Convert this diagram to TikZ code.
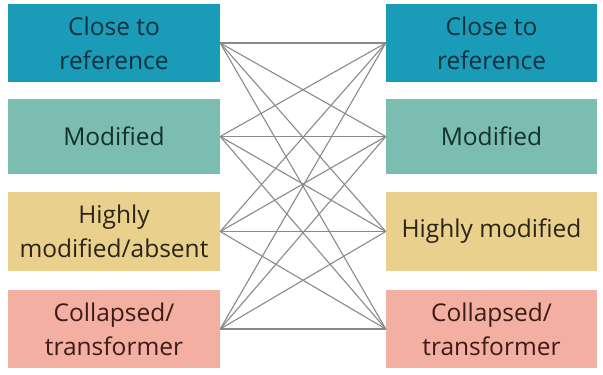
\documentclass[tikz,border=0pt]{standalone}
\usepackage{fontspec}
\setmainfont{Open Sans}
\definecolor{cA}{HTML}{1A9BB7}
\definecolor{cB}{HTML}{7BBDB0}
\definecolor{cC}{HTML}{E9D08C}
\definecolor{cD}{HTML}{F4AFA3}
\definecolor{tA}{HTML}{10303F}
\definecolor{tB}{HTML}{15302C}
\definecolor{tC}{HTML}{2B2418}
\definecolor{tD}{HTML}{3A1C18}
\definecolor{lnk}{HTML}{8A8A8A}
\begin{document}
\begin{tikzpicture}[x=1pt,y=-1pt,
  box/.style={rectangle, inner sep=0pt, minimum width=212pt, align=center,
    font=\fontsize{24.5}{34}\selectfont},
  link/.style={draw=lnk, line width=1.1pt}]
\useasboundingbox (0,0) rectangle (603,375);
\fill[white] (0,0) rectangle (603,375);
% left column
\node[box, fill=cA, text=tA, minimum height=78pt] (l1) at (114,43) {Close to\\reference};
\node[box, fill=cB, text=tB, minimum height=75pt] (l2) at (114,136.5) {Modified};
\node[box, fill=cC, text=tC, minimum height=79pt] (l3) at (114,231.5) {Highly\\modified/absent};
\node[box, fill=cD, text=tD, minimum height=78pt] (l4) at (114,329) {Collapsed/\\transformer};
% right column
\node[box, fill=cA, text=tA, minimum height=78pt, minimum width=211pt] (r1) at (491.5,43) {Close to\\reference};
\node[box, fill=cB, text=tB, minimum height=75pt, minimum width=211pt] (r2) at (491.5,136.5) {Modified};
\node[box, fill=cC, text=tC, minimum height=79pt, minimum width=211pt] (r3) at (491.5,231.5) {Highly modified};
\node[box, fill=cD, text=tD, minimum height=78pt, minimum width=211pt] (r4) at (491.5,329) {Collapsed/\\transformer};
% links
\foreach \i in {1,2,3,4}{
  \foreach \j in {1,2,3,4}{
    \draw[link] (l\i.east) -- (r\j.west);
  }
}
\end{tikzpicture}
\end{document}
